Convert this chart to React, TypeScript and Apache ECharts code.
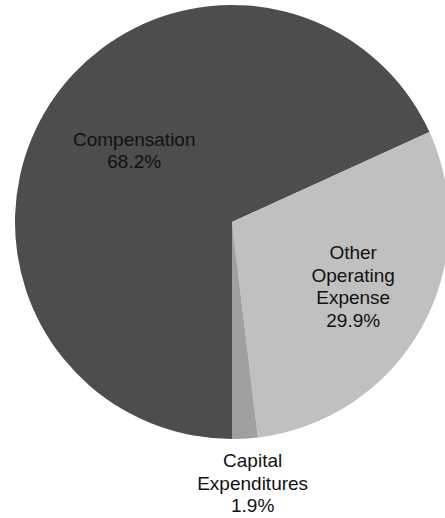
import React, { useEffect, useRef } from "react";
import * as echarts from "echarts";

const categories = ["Compensation", "Other\nOperating\nExpense", "Capital\nExpenditures"];
const shares = [68.2, 29.9, 1.9];
const colors = ["#4d4d4d", "#c0c0c0", "#a0a0a0"];
const labelOffsets: [number, number][] = [
  [-4, -11],
  [24, 10],
  [14, 150],
];

export default function App() {
  const ref = useRef<HTMLDivElement>(null);
  useEffect(() => {
    document.body.style.margin = "0";
    if (!ref.current) return;
    const chart = echarts.init(ref.current, undefined, { renderer: "svg" });
    chart.setOption({
      animation: false,
      backgroundColor: "#ffffff",
      series: [
        {
          type: "pie",
          center: [232, 222],
          radius: 217,
          startAngle: 270,
          clockwise: true,
          silent: true,
          avoidLabelOverlap: false,
          itemStyle: { borderWidth: 0 },
          label: {
            show: true,
            position: "inside",
            color: "#111111",
            fontFamily: "Liberation Sans, Arial, sans-serif",
            fontSize: 19,
            lineHeight: 22.5,
            align: "center",
            formatter: (p: any) => `${p.name}\n${p.value.toFixed(1)}%`,
          },
          labelLine: { show: false },
          data: categories.map((name, i) => ({
            name,
            value: shares[i],
            itemStyle: { color: colors[i] },
            label: { offset: labelOffsets[i] },
          })),
        },
      ],
    });
    return () => chart.dispose();
  }, []);
  return <div ref={ref} style={{ width: 445, height: 518 }} />;
}
